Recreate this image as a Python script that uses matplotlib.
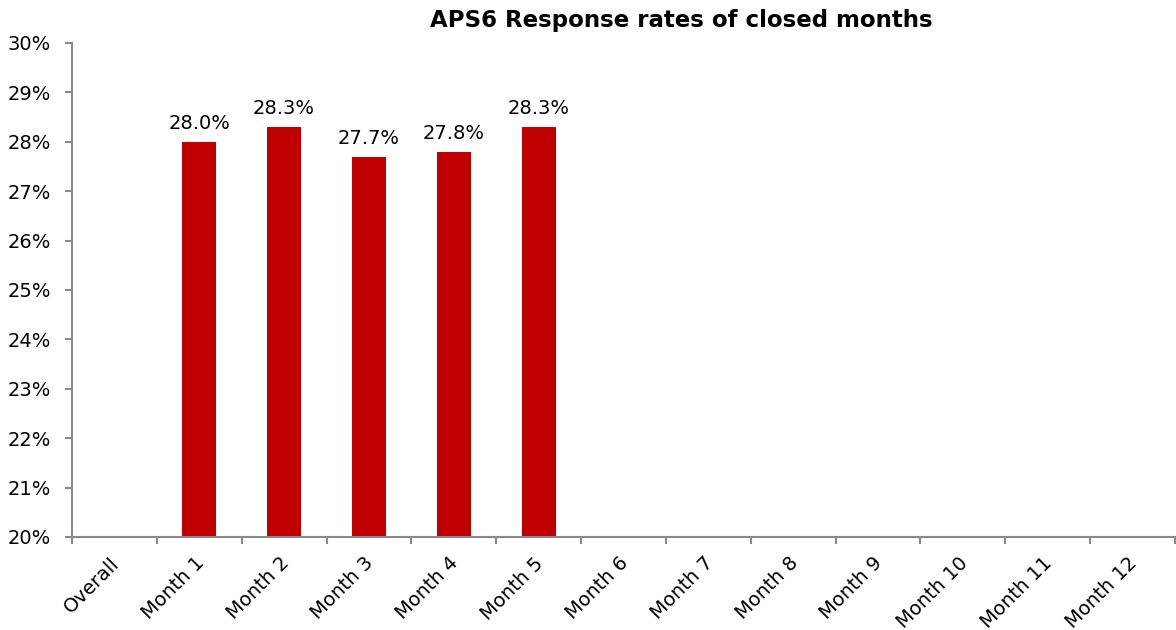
import matplotlib
matplotlib.use("Agg")
import matplotlib.pyplot as plt
import matplotlib.transforms as mtransforms
import numpy as np
from matplotlib.ticker import FixedLocator

categories = ["Overall", "Month 1", "Month 2", "Month 3", "Month 4", "Month 5", "Month 6",
              "Month 7", "Month 8", "Month 9", "Month 10", "Month 11", "Month 12"]
values = [None, 28.0, 28.3, 27.7, 27.8, 28.3, None, None, None, None, None, None, None]
yticks = [20, 21, 22, 23, 24, 25, 26, 27, 28, 29, 30]
title = "APS6 Response rates of closed months"

plt.rcParams['font.family'] = ['DejaVu Sans']

fig = plt.figure(figsize=(11.76, 6.3), dpi=100)
ax = fig.add_axes([72/1176, 1 - 537/630, (1175-72)/1176, (537-43)/630])

bar_color = "#C00000"
axis_color = "#898989"

x = np.arange(len(categories))
for xi, v in zip(x, values):
    if v is None:
        continue
    ax.bar(xi, v - 20, bottom=20, width=0.4, color=bar_color)
    ax.text(xi, v + 0.26, f"{v:.1f}%", ha="center", va="baseline", fontsize=14, color="black")

ax.set_xlim(-0.5, len(categories) - 0.5)
ax.set_ylim(20, 30)

ax.set_yticks(yticks)
ax.set_yticklabels([f"{t}%" for t in yticks], fontsize=14)

ax.set_xticks(x)
ax.set_xticklabels(categories, rotation=45, ha="right", rotation_mode="anchor", fontsize=14)
ax.tick_params(axis="x", which="major", length=0, pad=12)
ax.xaxis.set_minor_locator(FixedLocator(np.arange(len(categories) + 1) - 0.5))
ax.tick_params(axis="x", which="minor", length=5, width=1.5, color=axis_color)
ax.tick_params(axis="y", length=5, width=1.5, color=axis_color, pad=10)

offset = mtransforms.ScaledTranslation(-5/100, 0, fig.dpi_scale_trans)
for lbl in ax.get_xticklabels():
    lbl.set_transform(lbl.get_transform() + offset)

for s in ["top", "right"]:
    ax.spines[s].set_visible(False)
for s in ["left", "bottom"]:
    ax.spines[s].set_color(axis_color)
    ax.spines[s].set_linewidth(1.5)

fig.text(681/1176, 1 - 20/630, title, ha="center", va="center", fontsize=16.5, fontweight="bold")

fig.savefig("out.png", dpi=100)
